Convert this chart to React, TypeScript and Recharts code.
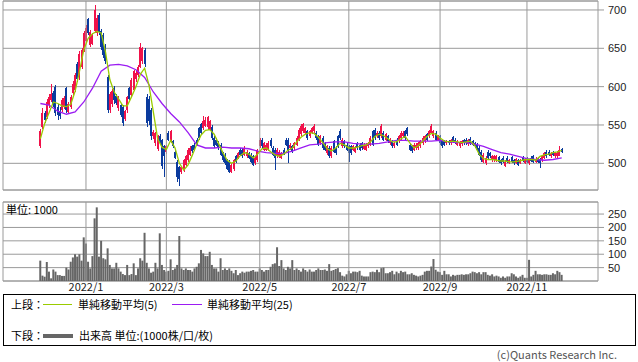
import React from 'react';
import {
  ComposedChart, Bar, Line, XAxis, YAxis, CartesianGrid, ReferenceLine, ReferenceArea,
} from 'recharts';

// trading-day index of the first session of each labelled month
const monthTicks = [21, 58, 101, 142, 184, 224];
const monthLabels = ['2022/1', '2022/3', '2022/5', '2022/7', '2022/9', '2022/11'];
const priceTicks = [500, 550, 600, 650, 700];
const volumeTicks = [50, 100, 150, 200, 250];

const opens = [
  522, 548, 566, 560, 576, 583, 592, 600, 574, 568,
  570, 574, 598, 567, 574, 592, 596, 630, 612, 626,
  648, 660, 688, 654, 656, 672, 670, 694, 672, 668,
  652, 612, 570, 578, 598, 588, 572, 576, 574, 558,
  569, 598, 589, 596, 610, 615, 626, 633, 648, 587,
  584, 569, 535, 526, 519, 536, 530, 522, 515, 540,
  529, 529, 515, 502, 495, 489, 491, 498, 504, 511,
  522, 524, 531, 546, 551, 546, 549, 547, 544, 548,
  533, 531, 527, 524, 513, 511, 504, 502, 489, 492,
  509, 507, 518, 518, 511, 509, 513, 511, 509, 500,
  504, 522, 531, 518, 518, 518, 531, 520, 518, 509,
  509, 507, 518, 531, 531, 520, 522, 520, 524, 531,
  538, 542, 540, 542, 535, 540, 542, 540, 535, 526,
  533, 526, 513, 520, 509, 529, 520, 535, 542, 522,
  529, 524, 522, 522, 518, 515, 526, 524, 526, 519,
  518, 522, 524, 542, 544, 535, 540, 535, 540, 531,
  535, 527, 529, 522, 531, 529, 533, 535, 542, 546,
  524, 522, 518, 520, 520, 522, 527, 529, 538, 535,
  540, 535, 540, 531, 535, 529, 529, 526, 529, 526,
  534, 531, 524, 522, 525, 530, 531, 525, 532, 529,
  526, 524, 520, 515, 502, 500, 515, 513, 504, 504,
  504, 508, 504, 507, 497, 507, 501, 508, 504, 501,
  504, 501, 508, 501, 507, 500, 507, 509, 502, 507,
  505, 504, 507, 515, 515, 509, 514, 509, 509, 510,
  519,
];

const highs = [
  545, 572, 568, 584, 590, 603, 594, 602, 577, 574,
  585, 588, 600, 580, 589, 607, 618, 632, 646, 650,
  672, 680, 690, 674, 670, 706, 694, 696, 675, 670,
  655, 615, 593, 597, 601, 590, 588, 578, 576, 570,
  588, 600, 611, 622, 622, 628, 657, 652, 650, 590,
  588, 572, 543, 541, 537, 538, 532, 524, 524, 542,
  544, 531, 517, 504, 497, 497, 506, 511, 520, 522,
  524, 526, 533, 548, 553, 562, 560, 562, 557, 550,
  535, 533, 529, 526, 515, 513, 506, 504, 500, 506,
  511, 515, 520, 520, 522, 518, 515, 513, 511, 509,
  519, 533, 533, 528, 526, 529, 533, 522, 520, 520,
  517, 515, 520, 533, 533, 526, 524, 528, 535, 546,
  551, 553, 548, 544, 544, 548, 551, 542, 537, 537,
  535, 528, 524, 522, 522, 531, 522, 537, 545, 533,
  531, 526, 524, 524, 524, 522, 528, 526, 528, 526,
  526, 528, 535, 544, 546, 542, 542, 551, 542, 539,
  537, 533, 531, 528, 533, 537, 542, 542, 544, 548,
  526, 524, 526, 526, 528, 531, 535, 537, 540, 544,
  551, 544, 542, 537, 537, 531, 531, 531, 531, 532,
  536, 533, 531, 529, 531, 532, 533, 532, 534, 531,
  528, 526, 522, 517, 513, 509, 517, 515, 511, 511,
  511, 510, 506, 509, 504, 509, 506, 510, 506, 507,
  506, 506, 510, 507, 508, 506, 509, 511, 508, 508,
  507, 511, 515, 517, 517, 515, 516, 515, 516, 522,
  520,
];

const lows = [
  520, 545, 553, 558, 572, 580, 574, 562, 556, 558,
  567, 571, 566, 564, 571, 589, 593, 606, 609, 623,
  645, 657, 667, 652, 654, 670, 666, 668, 648, 637,
  630, 566, 566, 574, 578, 576, 568, 560, 549, 555,
  566, 582, 586, 594, 606, 612, 624, 630, 626, 548,
  550, 531, 532, 523, 516, 524, 493, 482, 512, 529,
  527, 520, 505, 476, 471, 486, 489, 496, 502, 509,
  513, 516, 522, 531, 538, 544, 547, 544, 542, 531,
  520, 522, 518, 509, 502, 498, 491, 487, 487, 490,
  500, 505, 509, 507, 509, 507, 505, 500, 496, 498,
  502, 520, 520, 516, 516, 516, 520, 509, 491, 507,
  507, 505, 511, 522, 500, 518, 514, 518, 522, 529,
  536, 540, 538, 531, 533, 538, 540, 531, 522, 524,
  518, 516, 511, 507, 507, 513, 511, 520, 531, 520,
  520, 516, 502, 511, 516, 513, 518, 516, 518, 517,
  516, 520, 522, 522, 531, 533, 531, 533, 529, 529,
  527, 524, 520, 520, 522, 527, 531, 533, 531, 535,
  516, 514, 516, 518, 518, 520, 524, 527, 529, 533,
  538, 533, 529, 529, 524, 520, 522, 524, 524, 524,
  527, 525, 522, 520, 523, 524, 524, 523, 524, 522,
  520, 516, 509, 502, 500, 498, 504, 507, 502, 502,
  502, 500, 498, 500, 495, 500, 499, 500, 498, 499,
  496, 499, 502, 499, 500, 498, 502, 500, 500, 501,
  494, 502, 505, 507, 509, 507, 509, 507, 507, 509,
  513,
];

const closes = [
  542, 566, 557, 580, 587, 590, 578, 566, 563, 562,
  582, 585, 570, 577, 586, 604, 615, 610, 643, 648,
  670, 676, 670, 671, 667, 700, 690, 671, 652, 641,
  633, 570, 590, 594, 582, 579, 585, 563, 553, 568,
  586, 584, 609, 620, 618, 626, 652, 650, 630, 552,
  555, 535, 541, 539, 535, 526, 496, 509, 522, 531,
  542, 522, 507, 482, 480, 495, 504, 509, 518, 520,
  516, 518, 524, 533, 540, 555, 557, 560, 555, 533,
  522, 524, 520, 511, 504, 500, 493, 489, 498, 504,
  502, 513, 511, 509, 520, 515, 507, 502, 498, 507,
  518, 531, 522, 526, 524, 526, 522, 511, 507, 518,
  515, 513, 513, 524, 518, 524, 516, 526, 533, 544,
  549, 551, 546, 533, 542, 546, 549, 533, 524, 535,
  520, 518, 522, 509, 520, 515, 513, 522, 533, 531,
  522, 518, 513, 513, 522, 520, 520, 518, 520, 524,
  524, 527, 533, 524, 533, 540, 533, 549, 531, 538,
  529, 531, 522, 527, 524, 535, 540, 540, 533, 538,
  518, 516, 524, 524, 527, 529, 533, 535, 531, 542,
  549, 542, 531, 535, 527, 522, 524, 529, 526, 530,
  529, 527, 529, 527, 529, 526, 526, 530, 526, 524,
  522, 518, 511, 504, 511, 507, 507, 509, 509, 509,
  509, 502, 500, 502, 502, 502, 504, 502, 500, 505,
  498, 504, 503, 505, 502, 504, 503, 502, 506, 502,
  501, 509, 513, 509, 511, 513, 511, 513, 514, 517,
  515,
];

// volume in thousands of shares
const volumes = [
  76, 20, 16, 71, 35, 10, 43, 35, 22, 22,
  19, 19, 50, 43, 72, 88, 100, 91, 100, 76,
  163, 140, 72, 47, 93, 234, 275, 91, 150, 85,
  81, 122, 60, 47, 47, 68, 47, 35, 26, 22,
  60, 22, 26, 66, 22, 47, 85, 76, 180, 68,
  47, 31, 35, 68, 47, 178, 60, 41, 35, 38,
  81, 41, 47, 60, 168, 47, 41, 47, 41, 41,
  35, 47, 53, 66, 116, 103, 93, 93, 109, 60,
  47, 47, 35, 85, 41, 47, 41, 47, 38, 29,
  41, 22, 29, 35, 31, 35, 35, 38, 41, 35,
  35, 47, 41, 35, 41, 41, 53, 63, 66, 126,
  56, 78, 47, 41, 53, 47, 78, 41, 47, 41,
  35, 47, 41, 35, 43, 35, 35, 41, 47, 41,
  41, 43, 38, 63, 38, 41, 45, 48, 33, 20,
  17, 25, 38, 29, 35, 35, 33, 38, 20, 17,
  17, 17, 33, 35, 33, 42, 33, 48, 50, 29,
  29, 33, 38, 25, 35, 29, 38, 33, 35, 25,
  25, 29, 23, 20, 17, 20, 23, 35, 38, 38,
  54, 82, 42, 35, 33, 23, 38, 25, 25, 17,
  23, 20, 23, 23, 25, 23, 25, 25, 29, 35,
  33, 29, 33, 25, 33, 33, 23, 20, 25, 17,
  20, 17, 12, 17, 12, 17, 17, 29, 25, 17,
  12, 17, 23, 12, 12, 79, 17, 23, 38, 25,
  25, 23, 25, 25, 23, 23, 29, 25, 38, 33,
  23,
];

// 5-day SMA read every 2nd session, 25-day SMA every 4th session
const ma5 = [
  532, 552, 566, 580, 578, 575, 574, 577, 594, 620,
  648, 663, 669, 672, 670, 645, 609, 593, 584, 575,
  575, 587, 600, 616, 624, 602, 567, 532, 521, 518,
  530, 520, 500, 491, 498, 511, 525, 537, 543, 544,
  538, 526, 514, 504, 500, 503, 510, 514, 512, 507,
  512, 519, 520, 515, 511, 509, 512, 517, 520, 528,
  534, 538, 540, 539, 534, 527, 519, 516, 520, 526,
  524, 520, 520, 521, 523, 524, 528, 535, 538, 536,
  532, 528, 528, 532, 535, 527, 520, 523, 529, 535,
  539, 538, 533, 529, 528, 529, 528, 527, 528, 529,
  523, 512, 506, 505, 505, 504, 503, 503, 502, 502,
  503, 504, 505, 505, 504, 509, 511, 512, 514, 515,
  517,
];
const ma25 = [
  578, 576, 568, 564, 567, 580, 598, 620, 628, 629,
  627, 622, 612, 593, 578, 565, 554, 540, 524, 520,
  520, 521, 520, 520, 519, 516, 514, 513, 513, 516,
  520, 524, 525, 527, 528, 528, 526, 525, 525, 526,
  528, 530, 530, 529, 529, 529, 530, 528, 527, 527,
  525, 522, 518, 514, 512, 509, 506, 505, 504, 505,
  507,
];

const RED = '#f0124a';
const BLUE = '#0b3b9e';
const GRID = '#9a9a9a';
const FONT = '"Noto Sans CJK JP", "Noto Sans", sans-serif';
const NUM_FONT = '"Liberation Sans", Arial, sans-serif';
const X_DOMAIN: [number, number] = [-17.2, 256.7];
const PRICE_DOMAIN: [number, number] = [465.2, 711.7];

const days = closes.map((c, i) => ({
  i,
  o: opens[i],
  h: highs[i],
  l: lows[i],
  c,
  v: volumes[i],
  ma5: i % 2 === 0 ? ma5[i / 2] : null,
  ma25: i % 4 === 0 ? ma25[i / 4] : null,
}));

const Candle = (props: any) => {
  const { x, y, width, height, payload } = props;
  if (!payload) return null;
  const { o, h, l, c } = payload;
  const top = Math.min(y, y + height);
  const span = Math.abs(height);
  const k = h === l ? 0 : span / (h - l);
  const cx = Math.round(x + width / 2);
  const bodyTop = top + (h - Math.max(o, c)) * k;
  const bodyH = Math.max(1, Math.abs(o - c) * k);
  const color = c >= o ? RED : BLUE;
  return (
    <g shapeRendering="crispEdges">
      <rect x={cx} y={top} width={1} height={Math.max(1, span)} fill={color} />
      <rect x={cx - 1} y={bodyTop} width={2} height={bodyH} fill={color} />
    </g>
  );
};

const xTickStyle = { fill: '#222', fontSize: 11, fontFamily: FONT };
const yTickStyle = { fill: '#222', fontSize: 11, fontFamily: NUM_FONT };

const App: React.FC = () => {
  return (
    <div style={{ position: 'absolute', left: 0, top: 0, width: 638, height: 362, background: '#fff', fontFamily: FONT }}>
      <ComposedChart width={638} height={191} data={days} margin={{ top: 1, right: 0, bottom: 1, left: 3 }}>
        <CartesianGrid vertical={false} stroke={GRID} />
        {monthTicks.map((t) => (
          <ReferenceLine key={t} x={t} stroke={GRID} />
        ))}
        <XAxis type="number" dataKey="i" domain={X_DOMAIN} hide />
        <YAxis
          orientation="right"
          width={40}
          domain={PRICE_DOMAIN}
          ticks={priceTicks}
          axisLine={false}
          tickLine={{ stroke: GRID }}
          tickSize={6}
          tickMargin={4}
          tick={yTickStyle}
          interval={0}
        />
        <Bar dataKey={(d: any) => [d.l, d.h]} barSize={3} shape={Candle} isAnimationActive={false} />
        <Line type="linear" dataKey="ma25" stroke="#9b1cf2" strokeWidth={1.3} dot={false} connectNulls isAnimationActive={false} />
        <Line type="linear" dataKey="ma5" stroke="#9acb00" strokeWidth={1.3} dot={false} connectNulls isAnimationActive={false} />
        <ReferenceArea x1={X_DOMAIN[0]} x2={X_DOMAIN[1]} y1={PRICE_DOMAIN[0]} y2={PRICE_DOMAIN[1]} fill="none" stroke={GRID} ifOverflow="visible" />
      </ComposedChart>

      <div style={{ position: 'absolute', left: 0, top: 190 }}>
        <ComposedChart width={638} height={109} data={days} margin={{ top: 12, right: 0, bottom: 0, left: 3 }}>
          <CartesianGrid vertical={false} stroke={GRID} />
          {monthTicks.map((t) => (
            <ReferenceLine key={t} x={t} stroke={GRID} />
          ))}
          <XAxis
            type="number"
            dataKey="i"
            domain={X_DOMAIN}
            ticks={monthTicks}
            interval={0}
            tickFormatter={(v: number) => monthLabels[monthTicks.indexOf(v)]}
            axisLine={false}
            tickLine={false}
            tickSize={0}
            tickMargin={2}
            height={18}
            tick={xTickStyle}
          />
          <YAxis
            orientation="right"
            width={40}
            domain={[0, 295]}
            ticks={volumeTicks}
            axisLine={false}
            tickLine={{ stroke: GRID }}
            tickSize={6}
            tickMargin={4}
            tick={yTickStyle}
            interval={0}
          />
          <Bar dataKey="v" fill="#666" barSize={2} isAnimationActive={false} />
          <ReferenceArea x1={X_DOMAIN[0]} x2={X_DOMAIN[1]} y1={0} y2={295} fill="none" stroke={GRID} ifOverflow="visible" />
        </ComposedChart>
      </div>

      <div style={{ position: 'absolute', left: 6, top: 201, fontSize: 11, lineHeight: '16px', color: '#000' }}>単位: 1000</div>

      <div style={{ position: 'absolute', left: 3, top: 294, width: 633, height: 52, boxSizing: 'border-box', border: '1px solid #000', fontSize: 11, color: '#000' }}>
        <span style={{ position: 'absolute', left: 7, top: 1, lineHeight: '16px' }}>上段：</span>
        <span style={{ position: 'absolute', left: 39, top: 9, width: 29, height: 1, background: '#9acb00' }} />
        <span style={{ position: 'absolute', left: 74, top: 1, lineHeight: '16px' }}>単純移動平均(5)</span>
        <span style={{ position: 'absolute', left: 168, top: 9, width: 30, height: 1, background: '#9b1cf2' }} />
        <span style={{ position: 'absolute', left: 203, top: 1, lineHeight: '16px' }}>単純移動平均(25)</span>
        <span style={{ position: 'absolute', left: 7, top: 32, lineHeight: '16px' }}>下段：</span>
        <span style={{ position: 'absolute', left: 39, top: 39, width: 30, height: 4, background: '#666' }} />
        <span style={{ position: 'absolute', left: 75, top: 32, lineHeight: '16px' }}>出来高 単位:(1000株/口/枚)</span>
      </div>

      <div style={{ position: 'absolute', left: 0, top: 348, width: 617, textAlign: 'right', fontSize: 11, lineHeight: '13px', color: '#555' }}>
        (c)Quants Research Inc.
      </div>
    </div>
  );
};

export default App;
